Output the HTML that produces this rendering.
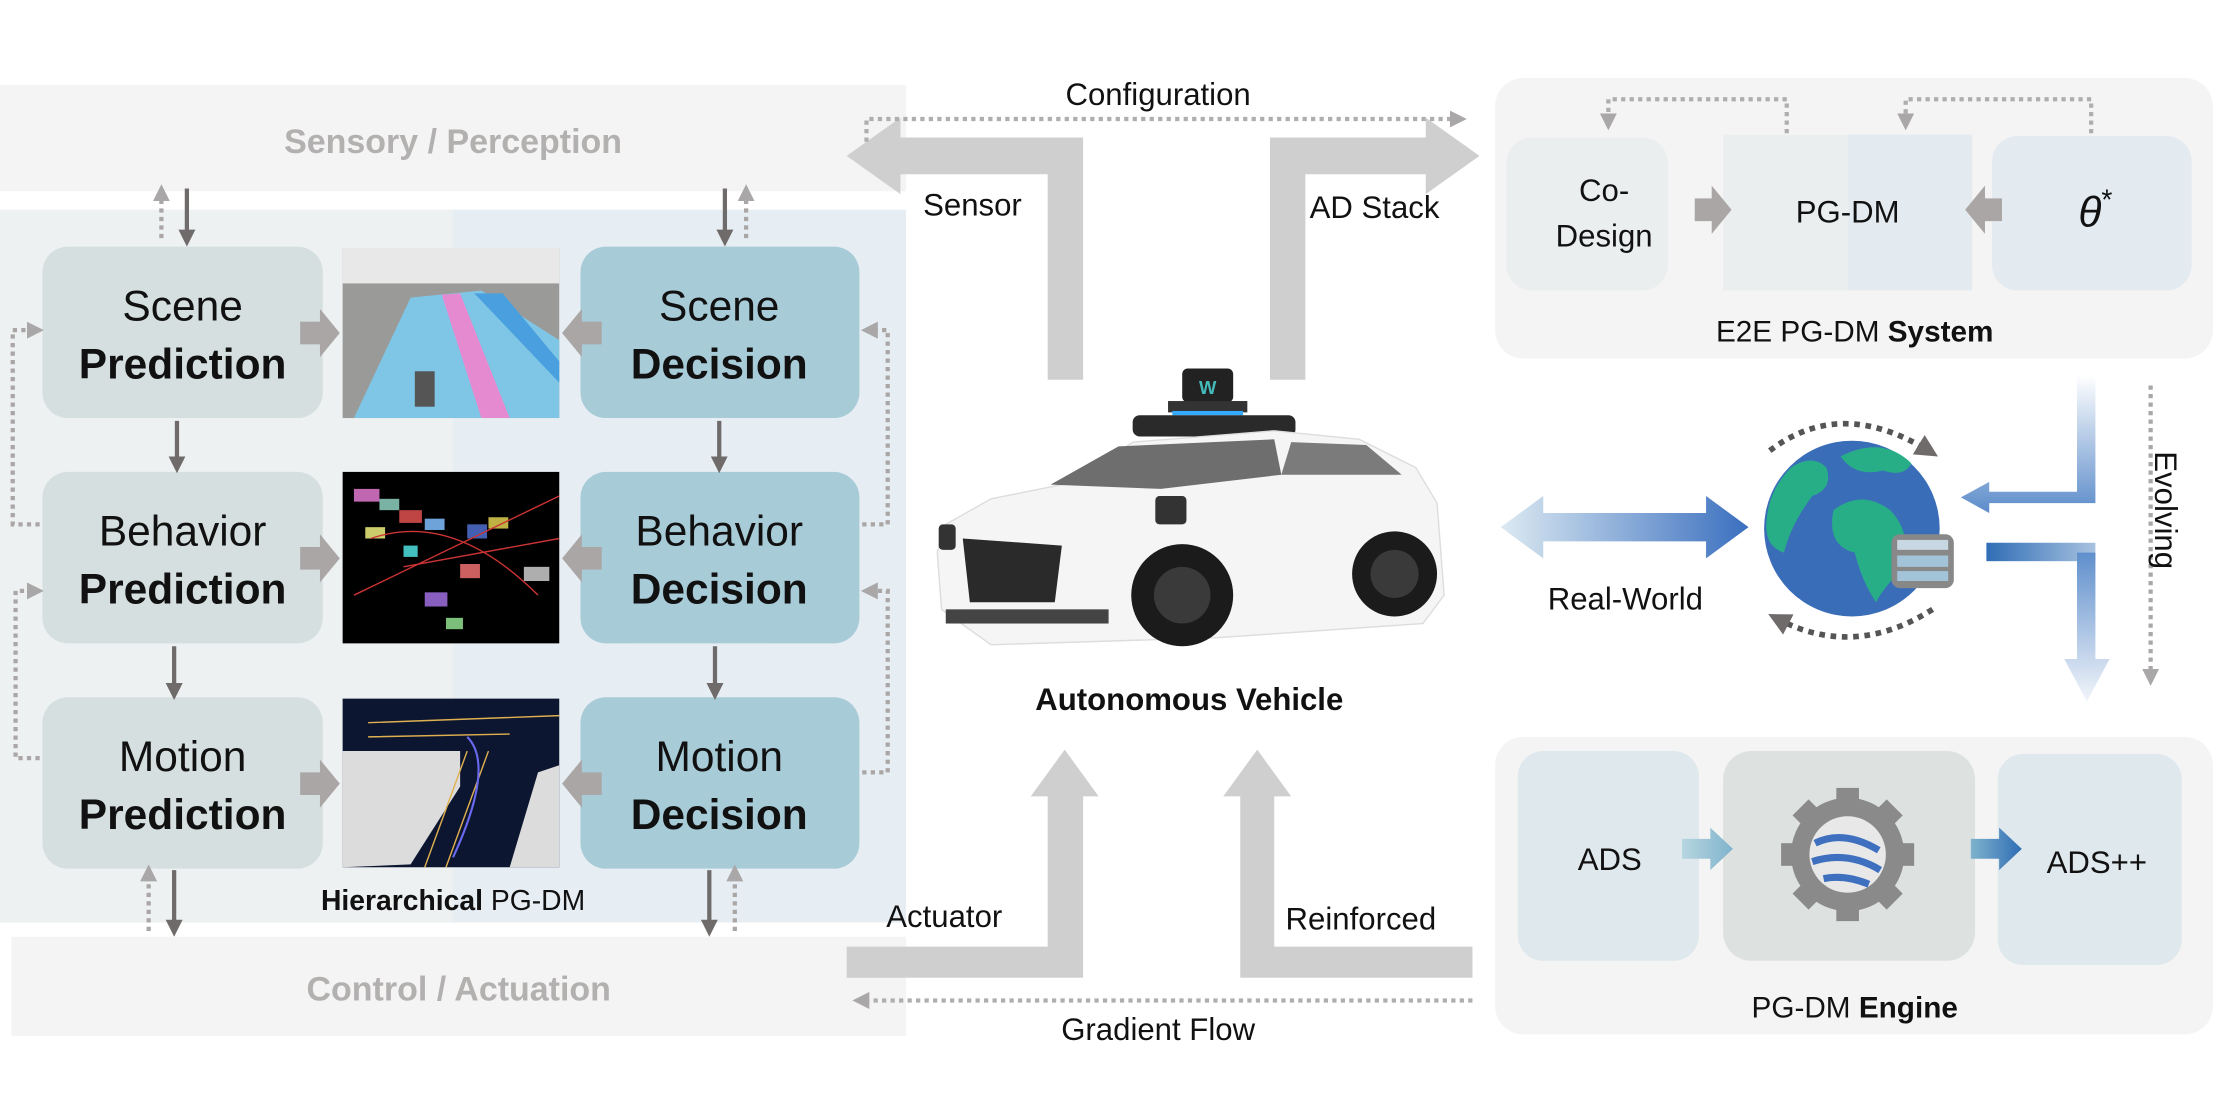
<!DOCTYPE html>
<html><head><meta charset="utf-8"><style>
html,body{margin:0;padding:0;background:#fff;}
svg{display:block;}
text{font-family:"Liberation Sans",sans-serif;}
</style></head><body>
<svg width="2220" height="1094" viewBox="0 0 1568 772" preserveAspectRatio="none" xmlns="http://www.w3.org/2000/svg">
<defs>
<marker id="gh" viewBox="0 0 10 10" refX="5" refY="5" markerWidth="4" markerHeight="4" orient="auto"><path d="M0,0L10,5L0,10z" fill="#a9a7a7"/></marker>
<marker id="dh" viewBox="0 0 10 10" refX="5" refY="5" markerWidth="4" markerHeight="4" orient="auto"><path d="M0,0L10,5L0,10z" fill="#6f6b6b"/></marker>
<linearGradient id="rw" x1="0" x2="1"><stop offset="0" stop-color="#dceaf2"/><stop offset="1" stop-color="#3a6fbf"/></linearGradient>
<linearGradient id="ev1" x1="0" y1="0" x2="0" y2="1"><stop offset="0" stop-color="#ffffff"/><stop offset="1" stop-color="#4a7fc4"/></linearGradient>
<linearGradient id="ev2" x1="0" y1="0" x2="0" y2="1"><stop offset="0" stop-color="#5f8fcc"/><stop offset="1" stop-color="#f2f5fa"/></linearGradient>
<linearGradient id="ev3" x1="0" x2="1"><stop offset="0" stop-color="#2f6db5"/><stop offset="1" stop-color="#a8c2e0"/></linearGradient>
<linearGradient id="ads" x1="0" x2="1"><stop offset="0" stop-color="#b7d6e0"/><stop offset="1" stop-color="#7fb3cc"/></linearGradient>
<linearGradient id="ads2" x1="0" x2="1"><stop offset="0" stop-color="#7fb3cc"/><stop offset="1" stop-color="#2f6db5"/></linearGradient>
</defs>

<!-- Left panel -->
<rect x="0" y="60" width="640" height="75" fill="#f4f4f4"/>
<text x="320" y="108" font-size="24" font-weight="bold" fill="#b3b0b0" text-anchor="middle">Sensory / Perception</text>
<rect x="0" y="148" width="320" height="503" fill="#eef1f2"/>
<rect x="320" y="148" width="320" height="503" fill="#e6eef3"/>
<rect x="8" y="661" width="632" height="70" fill="#f4f4f4"/>
<text x="324" y="706" font-size="24" font-weight="bold" fill="#b3b0b0" text-anchor="middle">Control / Actuation</text>

<g fill="#d5dfdf">
<rect x="30" y="174" width="198" height="121" rx="18"/>
<rect x="30" y="333" width="198" height="121" rx="18"/>
<rect x="30" y="492" width="198" height="121" rx="18"/>
</g>
<g fill="#a8cbd8">
<rect x="410" y="174" width="197" height="121" rx="18"/>
<rect x="410" y="333" width="197" height="121" rx="18"/>
<rect x="410" y="492" width="197" height="121" rx="18"/>
</g>
<g font-size="30" text-anchor="middle" fill="#111">
<text x="129" y="226">Scene</text><text x="129" y="267" font-weight="bold">Prediction</text>
<text x="129" y="385">Behavior</text><text x="129" y="426" font-weight="bold">Prediction</text>
<text x="129" y="544">Motion</text><text x="129" y="585" font-weight="bold">Prediction</text>
<text x="508" y="226">Scene</text><text x="508" y="267" font-weight="bold">Decision</text>
<text x="508" y="385">Behavior</text><text x="508" y="426" font-weight="bold">Decision</text>
<text x="508" y="544">Motion</text><text x="508" y="585" font-weight="bold">Decision</text>
</g>

<!-- images -->
<rect x="242" y="175" width="153" height="120" fill="#9a9a98"/>
<rect x="242" y="175" width="153" height="25" fill="#e8e8e8"/>
<polygon points="290,210 340,205 395,240 395,295 250,295" fill="#7fc6e6"/>
<polygon points="312,208 325,207 360,295 340,295" fill="#e58ad0"/>
<polygon points="335,207 355,207 395,255 395,270" fill="#4aa0de"/>
<rect x="293" y="262" width="14" height="25" fill="#555"/>
<rect x="242" y="333" width="153" height="121" fill="#000"/>
<g fill-opacity="0.85">
<rect x="250" y="345" width="18" height="9" fill="#e07ad0"/><rect x="268" y="352" width="14" height="8" fill="#8fd1c0"/>
<rect x="282" y="360" width="16" height="9" fill="#e05050"/><rect x="300" y="366" width="14" height="8" fill="#80c0ff"/>
<rect x="330" y="370" width="14" height="10" fill="#5070d0"/><rect x="345" y="365" width="14" height="8" fill="#e0d050"/>
<rect x="325" y="398" width="14" height="10" fill="#f07070"/><rect x="300" y="418" width="16" height="10" fill="#a070e0"/>
<rect x="258" y="372" width="14" height="8" fill="#f0f080"/><rect x="370" y="400" width="18" height="10" fill="#ccc"/>
<rect x="285" y="385" width="10" height="8" fill="#50e0e0"/><rect x="315" y="436" width="12" height="8" fill="#90e090"/>
</g>
<path d="M262,380 Q320,360 380,420 M285,400 L395,380 M250,420 L395,350" stroke="#c33" stroke-width="1" fill="none"/>
<rect x="242" y="493" width="153" height="119" fill="#0c1630"/>
<polygon points="242,530 325,530 325,555 290,610 242,612" fill="#dcdcdc"/>
<polygon points="380,545 395,540 395,612 360,612" fill="#dcdcdc"/>
<path d="M260,510 L395,505 M260,520 L360,518 M330,530 L300,612 M345,530 L315,612" stroke="#e0b050" stroke-width="1" fill="none"/>
<path d="M330,520 Q350,540 320,605" stroke="#6a6af0" stroke-width="1.5" fill="none"/>

<!-- fat arrows box->image -->
<g fill="#aaa6a6">
<path d="M212,227h14v-9l14,17l-14,17v-9h-14z"/>
<path d="M212,386h14v-9l14,17l-14,17v-9h-14z"/>
<path d="M212,545h14v-9l14,17l-14,17v-9h-14z"/>
<path d="M425,227h-14v-9l-14,17l14,17v-9h14z"/>
<path d="M425,386h-14v-9l-14,17l14,17v-9h14z"/>
<path d="M425,545h-14v-9l-14,17l14,17v-9h14z"/>
</g>
<!-- vertical dark arrows -->
<g stroke="#6f6b6b" stroke-width="3" marker-end="url(#dh)">
<line x1="132" y1="133" x2="132" y2="168"/>
<line x1="125" y1="297" x2="125" y2="328"/>
<line x1="123" y1="456" x2="123" y2="488"/>
<line x1="123" y1="614" x2="123" y2="655"/>
<line x1="512" y1="133" x2="512" y2="168"/>
<line x1="508" y1="297" x2="508" y2="328"/>
<line x1="505" y1="456" x2="505" y2="488"/>
<line x1="501" y1="614" x2="501" y2="655"/>
</g>
<!-- dotted feedback -->
<g stroke="#aaa6a6" stroke-width="3" stroke-dasharray="3,3" fill="none" marker-end="url(#gh)">
<line x1="114" y1="168" x2="114" y2="136"/>
<line x1="527" y1="168" x2="527" y2="136"/>
<line x1="105" y1="657" x2="105" y2="616"/>
<line x1="519" y1="657" x2="519" y2="616"/>
<polyline points="28,370 9,370 9,233 25,233"/>
<polyline points="28,535 11,535 11,417 25,417"/>
<polyline points="609,370 627,370 627,233 614,233"/>
<polyline points="609,545 627,545 627,417 614,417"/>
</g>
<text x="320" y="642" font-size="20" text-anchor="middle" fill="#111"><tspan font-weight="bold">Hierarchical</tspan> PG-DM</text>

<!-- middle arrows -->
<g fill="#cfcfcf">
<path d="M765,268h-25v-145h-104v14l-38,-27l38,-27v14h129z"/>
<path d="M897,268h25v-145h85v14l38,-27l-38,-27v14h-110z"/>
<path d="M598,668h142v-106h-12l24,-33l24,33h-11v128h-167z"/>
<path d="M876,690v-128h-12l24,-33l24,33h-12v106h140v22z"/>
</g>
<g stroke="#b0adad" stroke-width="3" stroke-dasharray="3,3" fill="none">
<polyline points="612,100 612,84 1030,84" marker-end="url(#gh)"/>
<line x1="1040" y1="706" x2="608" y2="706" marker-end="url(#gh)"/>
</g>
<g font-size="22" fill="#111">
<text x="818" y="74" text-anchor="middle">Configuration</text>
<text x="652" y="152">Sensor</text>
<text x="925" y="154">AD Stack</text>
<text x="626" y="654">Actuator</text>
<text x="908" y="656">Reinforced</text>
<text x="818" y="734" text-anchor="middle">Gradient Flow</text>
</g>

<!-- car -->
<g>
<rect x="835" y="260" width="36" height="24" rx="4" fill="#222"/>
<text x="853" y="278" font-size="13" font-weight="bold" fill="#4bb" text-anchor="middle">W</text>
<rect x="825" y="283" width="56" height="8" fill="#333"/>
<rect x="828" y="290" width="50" height="3" fill="#3af"/>
<rect x="800" y="293" width="115" height="15" rx="5" fill="#2a2a2a"/>
<path d="M668,370 L700,352 L760,340 L800,312 L900,304 L960,310 L1000,330 L1015,355 L1020,420 L1005,440 L860,450 L700,455 L665,430 L662,390z" fill="#f5f5f5" stroke="#ddd"/>
<path d="M742,342 L790,315 L900,310 L905,335 L820,345z" fill="#6e6e6e"/>
<path d="M905,335 L912,312 L965,314 L990,335z" fill="#7b7b7b"/>
<path d="M680,380 L750,385 L745,425 L685,425z" fill="#2a2a2a"/>
<rect x="668" y="430" width="115" height="10" fill="#444"/>
<circle cx="835" cy="420" r="36" fill="#1b1b1b"/><circle cx="835" cy="420" r="20" fill="#3a3a3a"/>
<circle cx="985" cy="405" r="30" fill="#1b1b1b"/><circle cx="985" cy="405" r="17" fill="#3a3a3a"/>
<rect x="816" y="350" width="22" height="20" rx="3" fill="#333"/>
<rect x="663" y="370" width="12" height="18" rx="3" fill="#333"/>
</g>
<text x="840" y="501" font-size="22" font-weight="bold" text-anchor="middle" fill="#111">Autonomous Vehicle</text>

<!-- System panel -->
<rect x="1056" y="55" width="507" height="198" rx="20" fill="#f4f4f4"/>
<rect x="1064" y="97" width="114" height="108" rx="18" fill="#ebeeef"/>
<rect x="1217" y="95" width="88" height="110" fill="#ebeeee"/>
<rect x="1305" y="95" width="88" height="110" fill="#e3ebf1"/>
<rect x="1407" y="96" width="141" height="109" rx="18" fill="#e3ebf1"/>
<g font-size="22" fill="#111" text-anchor="middle">
<text x="1133" y="142">Co-</text><text x="1133" y="174">Design</text>
<text x="1305" y="157">PG-DM</text>
<text x="1480" y="160" font-family="Liberation Serif" font-style="italic" font-size="30">θ<tspan font-style="normal" font-size="20" dy="-12">*</tspan></text>
<text x="1310" y="241" font-size="21">E2E PG-DM <tspan font-weight="bold">System</tspan></text>
</g>
<g fill="#aaa6a6">
<path d="M1197,140h12v-9l14,17l-14,17v-9h-12z"/>
<path d="M1414,140h-12v-9l-14,17l14,17v-9h12z"/>
</g>
<g stroke="#b0adad" stroke-width="3" stroke-dasharray="3,3" fill="none" marker-end="url(#gh)">
<polyline points="1262,94 1262,70 1136,70 1136,86"/>
<polyline points="1477,94 1477,70 1346,70 1346,86"/>
</g>

<!-- globe -->
<circle cx="1308" cy="373" r="62" fill="#3a6db8"/>
<path d="M1265,330 q15,-10 25,0 q5,15 -10,20 q-15,20 -20,40 q-15,-5 -12,-25 q2,-20 17,-35z" fill="#27ae87"/>
<path d="M1300,322 q30,-15 50,5 q-5,10 -20,5 q-20,5 -30,-10z" fill="#27ae87"/>
<path d="M1295,360 q20,-15 40,0 q15,15 10,40 q-15,15 -20,25 q-10,-15 -15,-35 q-20,-5 -15,-30z" fill="#27ae87"/>
<rect x="1336" y="377" width="44" height="38" rx="6" fill="#888"/>
<rect x="1340" y="381" width="36" height="7" fill="#c8d8e2"/>
<rect x="1340" y="392" width="36" height="8" fill="#a3c4d8"/>
<rect x="1340" y="403" width="36" height="7" fill="#a3c4d8"/>
<path d="M1250,318 Q1300,280 1362,318" stroke="#555" stroke-width="4" stroke-dasharray="4,4" fill="none" marker-end="url(#dh)"/>
<path d="M1365,430 Q1310,465 1256,437" stroke="#555" stroke-width="4" stroke-dasharray="4,4" fill="none" marker-end="url(#dh)"/>
<!-- real-world arrow -->
<path d="M1060,372 L1090,350 L1090,362 L1205,362 L1205,350 L1235,372 L1205,394 L1205,382 L1090,382 L1090,394z" fill="url(#rw)"/>
<text x="1148" y="430" font-size="22" text-anchor="middle" fill="#111">Real-World</text>
<!-- evolving -->
<path d="M1467,265 h13 v90 h-75 v7 l-20,-11 l20,-11 v7 h62z" fill="url(#ev1)" opacity="0.9"/>
<rect x="1403" y="383" width="77" height="13" fill="url(#ev3)"/>
<path d="M1467,390 h13 v75 h10 l-16,30 l-16,-30 h9z" fill="url(#ev2)"/>
<line x1="1519" y1="272" x2="1519" y2="478" stroke="#a9a7a7" stroke-width="3" stroke-dasharray="3,3" marker-end="url(#gh)"/>
<text transform="translate(1522,360) rotate(90)" font-size="22" fill="#111" text-anchor="middle">Evolving</text>

<!-- Engine panel -->
<rect x="1056" y="520" width="507" height="210" rx="20" fill="#f4f4f4"/>
<rect x="1072" y="530" width="128" height="148" rx="18" fill="#dfe8ed"/>
<rect x="1217" y="530" width="178" height="148" rx="20" fill="#dde2e0"/>
<rect x="1411" y="532" width="130" height="149" rx="18" fill="#dfe8ed"/>
<path d="M1284,615h20v-8l16,15l-16,15v-8h-20z" transform="translate(-96,-23)" fill="url(#ads)"/>
<path d="M1392,592h20v-8l16,15l-16,15v-8h-20z" fill="url(#ads2)"/>
<circle cx="1305" cy="603" r="40" fill="#8a8a8a"/>
<g fill="#8a8a8a">
<rect x="1297" y="556" width="16" height="12"/><rect x="1297" y="638" width="16" height="12"/>
<rect x="1258" y="595" width="12" height="16"/><rect x="1340" y="595" width="12" height="16"/>
<rect x="1297" y="556" width="16" height="12" transform="rotate(45 1305 603)"/><rect x="1297" y="556" width="16" height="12" transform="rotate(-45 1305 603)"/>
<rect x="1297" y="556" width="16" height="12" transform="rotate(135 1305 603)"/><rect x="1297" y="556" width="16" height="12" transform="rotate(-135 1305 603)"/>
</g>
<circle cx="1305" cy="603" r="27" fill="#e8e8e8"/>
<path d="M1282,595 q20,-10 45,5 M1280,608 q25,-8 48,6 M1288,620 q15,-3 32,4" stroke="#3f6fbf" stroke-width="5" fill="none"/>
<g font-size="22" fill="#111" text-anchor="middle">
<text x="1137" y="614">ADS</text>
<text x="1481" y="616">ADS++</text>
<text x="1310" y="718" font-size="21">PG-DM <tspan font-weight="bold">Engine</tspan></text>
</g>
</svg>
</body></html>
